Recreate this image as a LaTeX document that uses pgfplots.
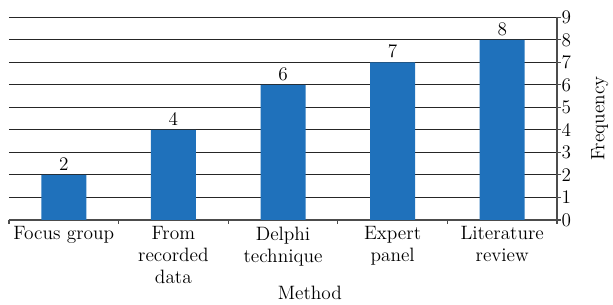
\documentclass[border=0pt]{standalone}
\usepackage{pgfplots}
\pgfplotsset{compat=1.18}
\definecolor{barblue}{RGB}{31,113,187}
\newcommand{\cf}{\fontsize{14.5}{16.5}\selectfont}
\begin{document}
\begin{tikzpicture}
\begin{axis}[
  scale only axis,
  width=411pt, height=152pt,
  xmin=-0.5, xmax=4.5,
  ymin=0, ymax=9,
  ytick={0,1,...,9},
  xtick={0,1,2,3,4},
  xticklabels={Focus group,From\\recorded\\data,Delphi\\technique,Expert\\panel,Literature\\review},
  minor xtick={-0.5,0.5,1.5,2.5,3.5,4.5},
  major x tick style={draw=none},
  minor x tick style={black!70, line width=0.8pt},
  xminorgrids=false,
  tick align=outside,
  major tick length=3pt,
  minor tick length=3pt,
  axis y line*=right,
  axis x line*=bottom,
  axis line style={black!70, line width=0.8pt},
  ytick style={black!70, line width=0.8pt},
  ymajorgrids,
  grid style={black!85, line width=0.75pt},
  xticklabel style={align=center, font=\cf, yshift=1.5pt},
  yticklabel style={font=\cf, xshift=-3pt},
  ybar,
  bar width=33.75pt,
  nodes near coords,
  nodes near coords style={font=\cf, black, yshift=0pt},
  xlabel={Method},
  ylabel={Frequency},
  label style={font=\cf},
  xlabel style={at={(axis description cs:0.549,-0.36)}, anchor=center},
  ylabel style={at={(axis description cs:1.078,0.5)}, anchor=center, rotate=0},
]
\addplot[fill=barblue, draw=none] coordinates {(0,2) (1,4) (2,6) (3,7) (4,8)};
\end{axis}
\path[use as bounding box] (-6.75pt,-61.5pt) rectangle (453pt,165pt);
\end{tikzpicture}
\end{document}
